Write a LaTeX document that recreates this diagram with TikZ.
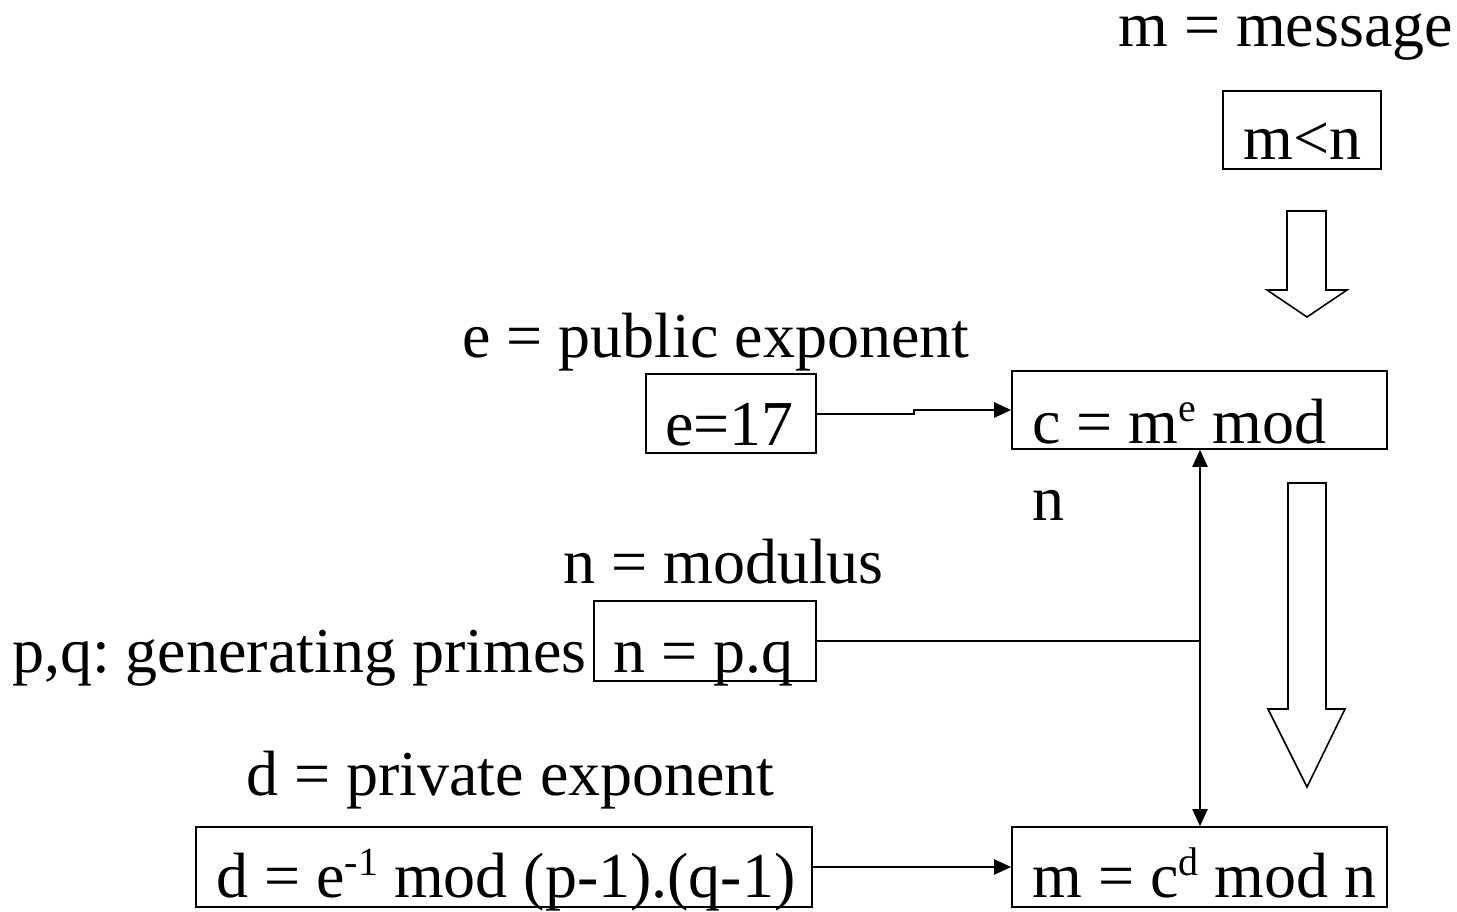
\documentclass[tikz,border=0pt]{standalone}
\usepackage{fontspec}
\setmainfont{Liberation Serif}
\usetikzlibrary{arrows.meta}
\frenchspacing
\newcommand{\sups}[1]{\raisebox{0.34em}{\fontsize{40}{44}\selectfont #1}}
\tikzset{
  lbl/.style={anchor=base west, inner sep=0pt, font=\fontsize{64}{72}\selectfont},
  boxnode/.style={draw, line width=1.6pt, inner sep=0pt, rectangle},
  conn/.style={line width=2pt, -{Triangle[length=17pt,width=15pt]}},
  plain/.style={line width=2pt},
  hollow/.style={draw, line width=1.6pt, fill=white, line join=miter}
}
\begin{document}
\begin{tikzpicture}[x=1pt,y=-1pt]
\useasboundingbox (0,0) rectangle (1457,912);
% boxes
\node[boxnode, minimum width=158pt, minimum height=78pt] (mn) at (1302,130) {};
\node[boxnode, minimum width=170pt, minimum height=79pt] (e17) at (731,413.5) {};
\node[boxnode, minimum width=375pt, minimum height=78pt] (cbox) at (1199.5,410) {};
\node[boxnode, minimum width=222pt, minimum height=80pt] (npq) at (705,641) {};
\node[boxnode, minimum width=616pt, minimum height=80pt] (dbox) at (504,867) {};
\node[boxnode, minimum width=375pt, minimum height=80pt] (mbox) at (1199.5,867) {};
% labels
\node[lbl] (tmsg) at (1118,47) {m = message};
\node[lbl] (tmn) at (1243,160) {m<n};
\node[lbl] (tpub) at (462,357) {e = public exponent};
\node[lbl] (te17) at (665,445) {e=17};
\node[lbl] (tc) at (1032,443) {c = m\sups{e} mod};
\node[lbl] (tn) at (1032,520) {n};
\node[lbl] (tmod) at (563,583) {n = modulus};
\node[lbl] (tpq) at (12,672) {p,q: generating primes};
\node[lbl] (tnpq) at (613,672) {n = p.q};
\node[lbl] (tpriv) at (246,795) {d = private exponent};
\node[lbl] (td) at (216,897) {d = e\sups{-1} mod (p-1).(q-1)};
\node[lbl] (tm) at (1032,897) {m = c\sups{d} mod n};
% hollow arrows
\draw[hollow] (1287,211) -- (1326,211) -- (1326,290) -- (1347,290) -- (1307,317) -- (1267,290) -- (1287,290) -- cycle;
\draw[hollow] (1288,483) -- (1326,483) -- (1326,709) -- (1345,709) -- (1307,787) -- (1268,709) -- (1288,709) -- cycle;
% connectors
\coordinate (j) at (1200,641);
\draw[conn] (e17.east) -- ++(97,0) |- (cbox.west);
\draw[plain] (npq.east) -- (j);
\draw[conn] (j) -- (cbox.south -| j);
\draw[conn] (j) -- (mbox.north -| j);
\draw[conn] (dbox.east) -- (mbox.west);
\end{tikzpicture}
\end{document}
